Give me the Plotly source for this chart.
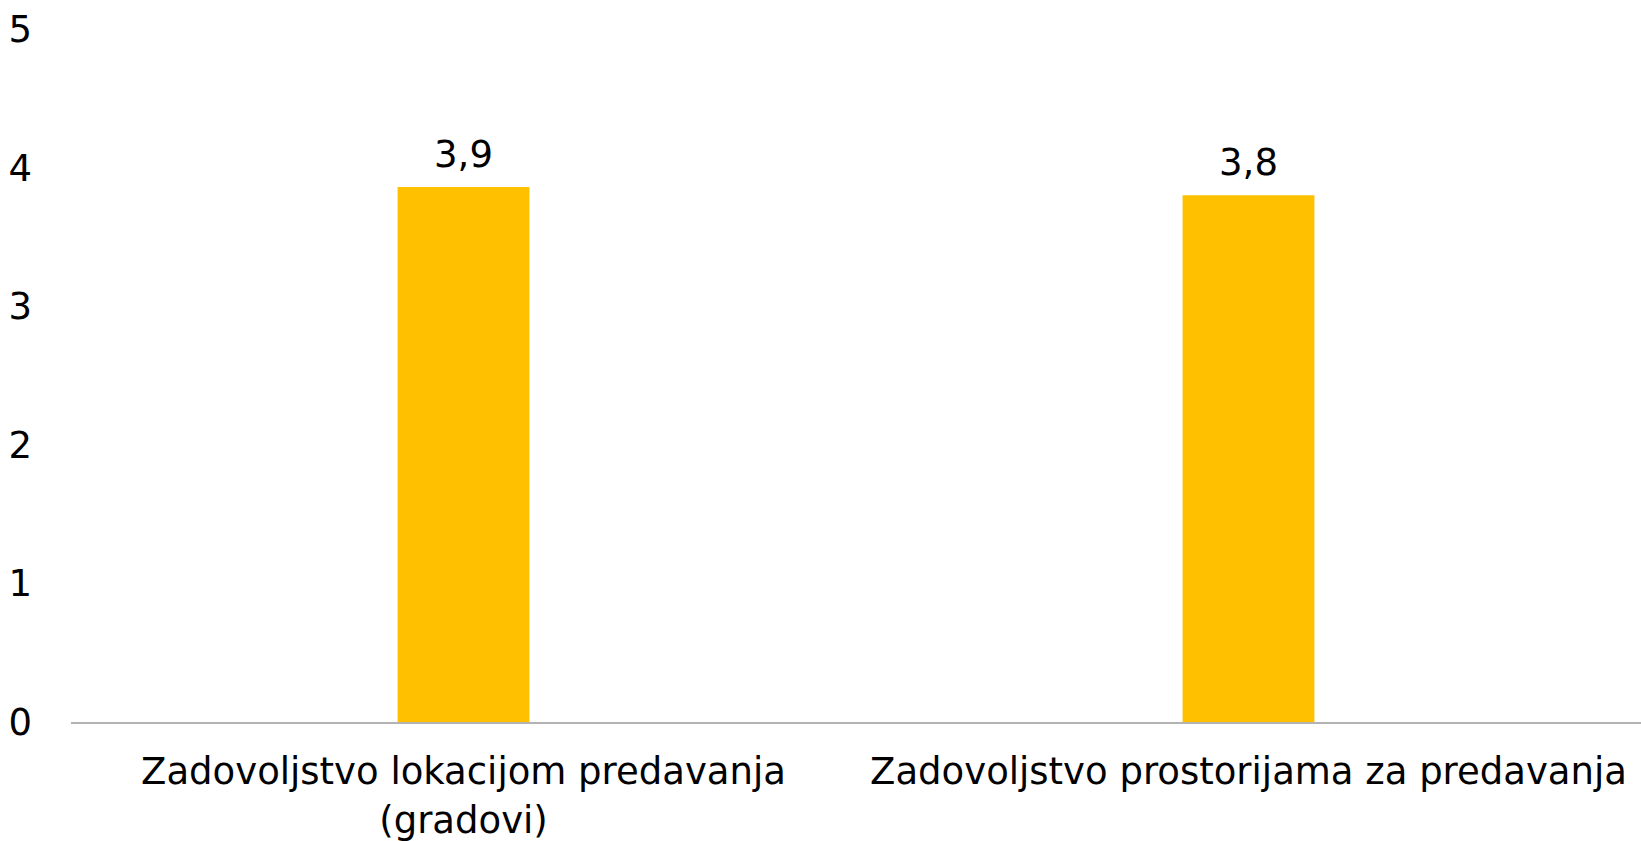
import plotly.graph_objects as go

categories = ["Zadovoljstvo lokacijom predavanja<br>(gradovi)", "Zadovoljstvo prostorijama za predavanja"]
values = [3.86, 3.80]
y_ticks = [0, 1, 2, 3, 4, 5]

fig = go.Figure()
fig.add_trace(go.Bar(
    x=categories, y=values,
    marker=dict(color="#FFC000", line=dict(width=0)),
    hoverinfo="skip",
))
fig.add_trace(go.Scatter(
    x=categories, y=values, mode="markers+text",
    marker=dict(size=16, opacity=0),
    texttemplate="%{y:.1f}", textposition="top center",
    textfont=dict(size=37, color="#000000", family="DejaVu Sans"),
    cliponaxis=False, hoverinfo="skip",
))

fig.update_layout(
    width=1641, height=841,
    margin=dict(l=71, r=0, t=29, b=119, autoexpand=False),
    paper_bgcolor="white", plot_bgcolor="white",
    separators=", ",
    bargap=0.832,
    showlegend=False,
    font=dict(family="DejaVu Sans", size=37, color="#000000"),
)
fig.update_xaxes(showgrid=False, showline=True, linecolor="#B3B3B3", linewidth=2,
                 ticks="", tickfont=dict(size=37), ticklabelstandoff=16, automargin=False)
fig.update_yaxes(range=[0, 5], tickvals=y_ticks, showgrid=False, zeroline=False,
                 showline=False, ticks="", tickfont=dict(size=37), ticklabelstandoff=38,
                 automargin=False, ticklabeloverflow="allow")

fig.write_html("out.html", config={"displayModeBar": False},
               post_script="document.body.style.margin='0';document.body.style.overflow='hidden';")
